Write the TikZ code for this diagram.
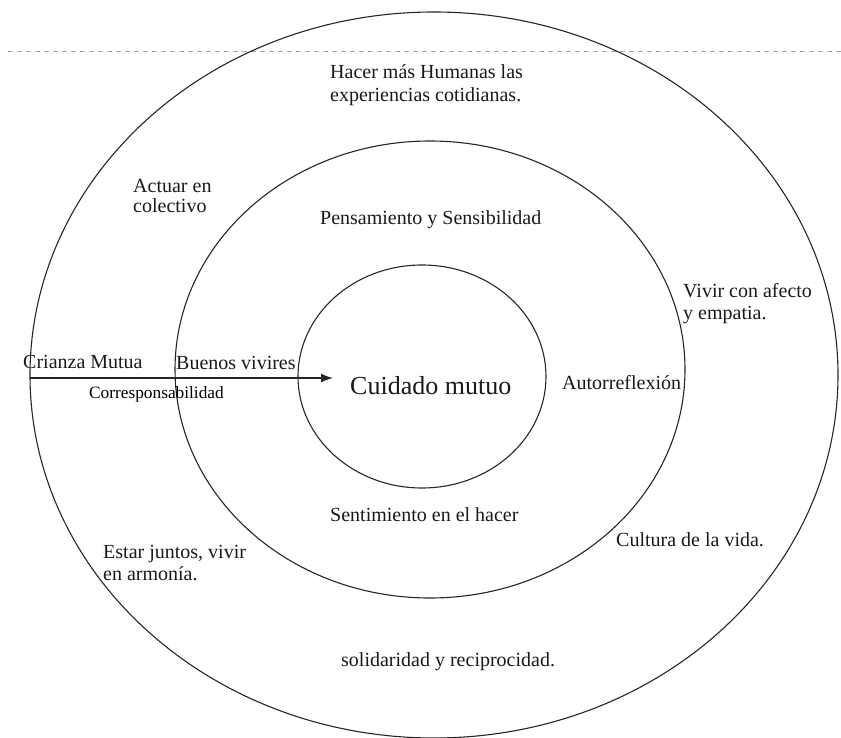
\documentclass[tikz,border=0pt]{standalone}
\usepackage{fontspec}
\setmainfont{Liberation Serif}
\usetikzlibrary{shapes.geometric,arrows.meta}
\tikzset{
  ring/.style={ellipse, draw=black!85, line width=1.1pt, inner sep=0pt},
  lbl/.style={anchor=base west, inner sep=0pt, font=\fontsize{20}{22}\selectfont, text=black!90},
  smalllbl/.style={anchor=base west, inner sep=0pt, font=\fontsize{17.3}{19}\selectfont, text=black},
  biglbl/.style={anchor=base west, inner sep=0pt, font=\fontsize{26}{28}\selectfont, text=black!90},
  guide/.style={draw=black!35, line width=0.8pt, dash pattern=on 5pt off 4pt},
  flow/.style={draw=black!85, line width=1.3pt, -{Latex[length=12pt,width=9pt]}}
}
\begin{document}
\begin{tikzpicture}[x=1pt,y=-1pt]
\useasboundingbox (0,0) rectangle (841,738);
% top guide line
\coordinate (gl) at (8,51);
\coordinate (gr) at (841,51);
\draw[guide] (gl) -- (gr);
% rings
\node[ring, minimum width=808pt, minimum height=726pt] (outer) at (434,375) {};
\node[ring, minimum width=510pt, minimum height=457pt] (middle) at (430,369.5) {};
\node[ring, minimum width=248pt, minimum height=223pt] (inner) at (422,376.5) {};
% arrow
\coordinate (as) at (30,378);
\coordinate (ae) at (333,378);
\draw[flow] (as) -- (ae);
% labels
\node[lbl] (hacer) at (330,79) {\begin{tabular}[t]{@{}l@{}}Hacer más Humanas las\\[1pt] experiencias cotidianas.\end{tabular}};
\node[lbl] (actuar) at (133,193) {\begin{tabular}[t]{@{}l@{}}Actuar en\\[-2pt] colectivo\end{tabular}};
\node[lbl] (pens) at (320,225) {Pensamiento y Sensibilidad};
\node[lbl] (vivir) at (683,298) {\begin{tabular}[t]{@{}l@{}}Vivir con afecto\\[-1pt] y empatia.\end{tabular}};
\node[lbl] (crianza) at (23,368) {Crianza Mutua};
\node[lbl] (buenos) at (176,369) {Buenos vivires};
\node[smalllbl] (corr) at (89,398) {Corresponsabilidad};
\node[biglbl] (cuidado) at (350,394) {Cuidado mutuo};
\node[lbl] (auto) at (562,389) {Autorreflexión};
\node[lbl] (senti) at (330,521) {Sentimiento en el hacer};
\node[lbl] (cultura) at (616,546) {Cultura de la vida.};
\node[lbl] (estar) at (103,558) {\begin{tabular}[t]{@{}l@{}}Estar juntos, vivir\\ en armonía.\end{tabular}};
\node[lbl] (soli) at (341,666) {solidaridad y reciprocidad.};
\end{tikzpicture}
\end{document}
